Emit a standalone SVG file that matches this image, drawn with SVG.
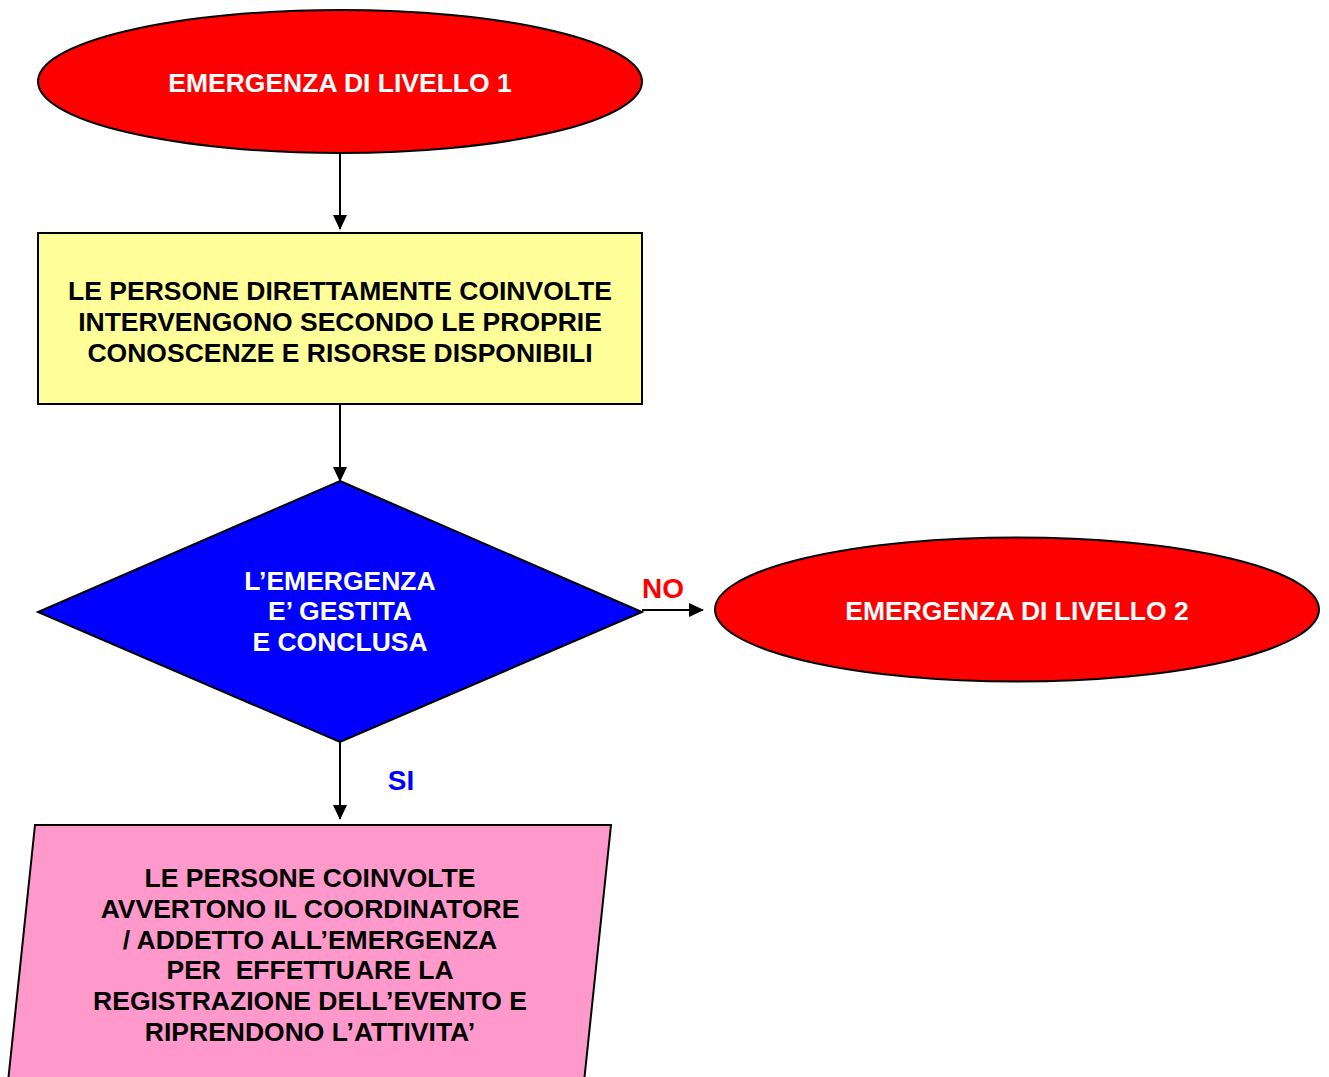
<svg xmlns="http://www.w3.org/2000/svg" width="1329" height="1077" viewBox="0 0 1329 1077">
<defs>
<marker id="ah" markerWidth="16" markerHeight="16" refX="14" refY="8" orient="auto" markerUnits="userSpaceOnUse">
<path d="M0,1 L15,8 L0,15 Z" fill="#000"/>
</marker>
<style>
.t{font-family:"Liberation Sans",Arial,sans-serif;font-weight:bold;font-size:26.5px;text-anchor:middle}
.l{font-size:28px}
.w{fill:#fff}
.k{fill:#000}
.s{stroke:#000;stroke-width:2}
.c{stroke:#000;stroke-width:2;fill:none;marker-end:url(#ah)}
</style>
</defs>
<rect width="1329" height="1077" fill="#fff"/>
<g id="connectors">
<line class="c" x1="340" y1="153" x2="340" y2="229"/>
<line class="c" x1="340" y1="404" x2="340" y2="481"/>
<line class="c" x1="642" y1="610" x2="703" y2="610"/>
<line class="c" x1="340" y1="742" x2="340" y2="819"/>
<text class="t l" x="663" y="598" fill="#ff0000">NO</text>
<text class="t l" x="401" y="790" fill="#0000ff">SI</text>
</g>
<g id="n1">
<ellipse class="s" cx="340" cy="81.5" rx="302" ry="71.5" fill="#ff0000"/>
<text class="t w" x="340" y="91.5">EMERGENZA DI LIVELLO 1</text>
</g>
<g id="n2">
<rect class="s" x="38" y="233" width="604" height="171" fill="#ffff99"/>
<text class="t k" x="340" y="299.5">LE PERSONE DIRETTAMENTE COINVOLTE</text>
<text class="t k" x="340" y="330.5">INTERVENGONO SECONDO LE PROPRIE</text>
<text class="t k" x="340" y="361.5">CONOSCENZE E RISORSE DISPONIBILI</text>
</g>
<g id="n3">
<polygon class="s" points="340,481 642,612 340,742 38,612" fill="#0000ff"/>
<text class="t w" x="340" y="589.5">L’EMERGENZA</text>
<text class="t w" x="340" y="619.5">E’ GESTITA</text>
<text class="t w" x="340" y="650.5">E CONCLUSA</text>
</g>
<g id="n4">
<ellipse class="s" cx="1017" cy="609.5" rx="302" ry="72" fill="#ff0000"/>
<text class="t w" x="1017" y="619.5">EMERGENZA DI LIVELLO 2</text>
</g>
<g id="n5">
<polygon class="s" points="35,825 611,825 584,1082 8,1082" fill="#ff99cc"/>
<text class="t k" x="310" y="886.5">LE PERSONE COINVOLTE</text>
<text class="t k" x="310" y="917.5">AVVERTONO IL COORDINATORE</text>
<text class="t k" x="310" y="948.5">/ ADDETTO ALL’EMERGENZA</text>
<text class="t k" x="310" y="978.5" xml:space="preserve">PER  EFFETTUARE LA</text>
<text class="t k" x="310" y="1009.5">REGISTRAZIONE DELL’EVENTO E</text>
<text class="t k" x="310" y="1040.5">RIPRENDONO L’ATTIVITA’</text>
</g>
</svg>
